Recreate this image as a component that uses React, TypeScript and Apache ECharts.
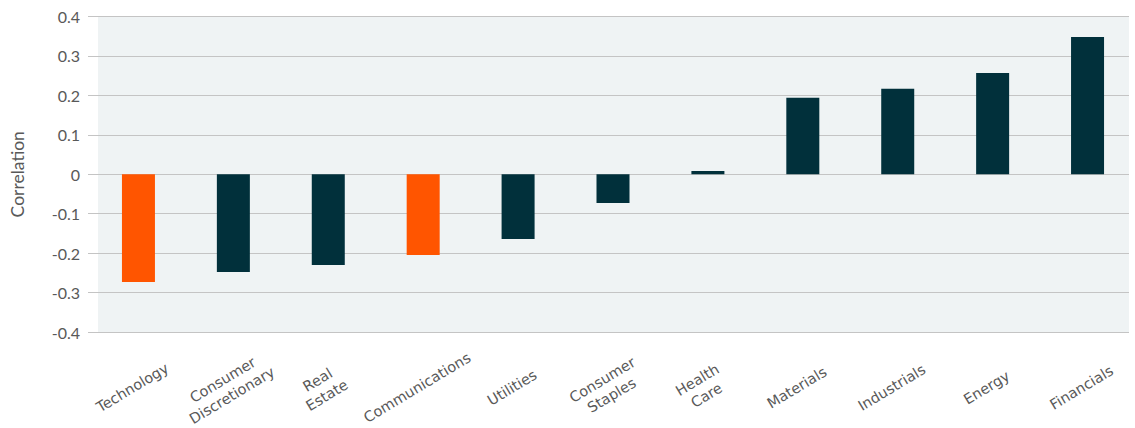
import React, { useEffect, useRef } from "react";
import * as echarts from "echarts";

const categories = [
  "Technology",
  "Consumer\nDiscretionary",
  "Real\nEstate",
  "Communications",
  "Utilities",
  "Consumer\nStaples",
  "Health\nCare",
  "Materials",
  "Industrials",
  "Energy",
  "Financials",
];
const correlations = [-0.273, -0.248, -0.23, -0.205, -0.164, -0.073, 0.008, 0.194, 0.217, 0.257, 0.348];
const highlighted = ["Technology", "Communications"];
const yTicks = { min: -0.4, max: 0.4, interval: 0.1 };

const ORANGE = "#ff5500";
const DARK = "#01303b";
const TEXT = "#595959";

export default function App() {
  const ref = useRef<HTMLDivElement>(null);
  useEffect(() => {
    if (!ref.current) return;
    const chart = echarts.init(ref.current, null, { renderer: "svg" });
    const top = 16.5;
    const bottom = 96;
    const common = { top, bottom, outerBoundsMode: "none", containLabel: false };
    chart.setOption({
      animation: false,
      grid: [
        { ...common, left: 98, right: 6, show: true, backgroundColor: "#eff3f4", borderWidth: 0 },
        { ...common, left: 88, right: 6 },
        { ...common, left: 91, right: 0 },
      ],
      xAxis: [
        { type: "value", gridIndex: 0, show: false },
        { type: "value", gridIndex: 1, show: false },
        {
          type: "category",
          gridIndex: 2,
          data: categories,
          axisLine: { show: false },
          axisTick: { show: false },
          axisLabel: {
            interval: 0,
            rotate: 31,
            align: "center",
            verticalAlign: "middle",
            margin: 52,
            padding: [0, 14, 0, 0],
            overflow: "none",
            hideOverlap: false,
            color: TEXT,
            fontFamily: "DejaVu Sans",
            fontSize: 14.5,
            lineHeight: 18,
          },
        },
      ],
      yAxis: [
        { type: "value", gridIndex: 0, show: false, min: yTicks.min, max: yTicks.max, interval: yTicks.interval },
        {
          type: "value",
          gridIndex: 1,
          min: yTicks.min,
          max: yTicks.max,
          interval: yTicks.interval,
          name: "Correlation",
          nameLocation: "middle",
          nameGap: 62,
          nameTextStyle: { color: TEXT, fontFamily: "Lato", fontSize: 17.5 },
          axisLine: { show: false },
          axisTick: { show: false },
          axisLabel: {
            color: TEXT,
            fontFamily: "Lato",
            fontSize: 16,
            margin: 8,
            formatter: (v: number) => (Math.abs(v) < 1e-9 ? "0" : String(Math.round(v * 10) / 10)),
          },
          splitLine: { show: true, lineStyle: { color: "#c4c4c4", width: 1 } },
        },
        {
          type: "value",
          gridIndex: 2,
          show: false,
          min: yTicks.min,
          max: yTicks.max,
          interval: yTicks.interval,
        },
      ],
      series: [
        {
          type: "bar",
          xAxisIndex: 2,
          yAxisIndex: 2,
          barWidth: 33,
          data: correlations.map((v, i) => ({
            value: v,
            itemStyle: { color: highlighted.includes(categories[i]) ? ORANGE : DARK },
          })),
        },
      ],
    });
    return () => chart.dispose();
  }, []);
  return <div ref={ref} style={{ position: "absolute", left: 0, top: 0, width: 1135, height: 428 }} />;
}
